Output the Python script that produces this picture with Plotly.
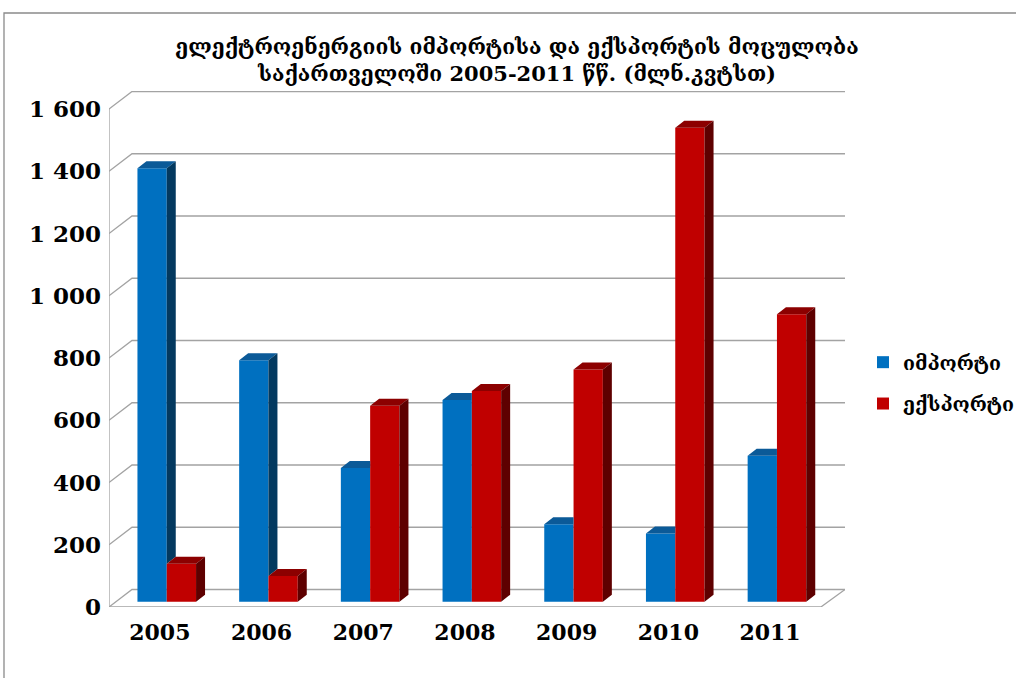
import plotly.graph_objects as go

# data (mln kWh)
years = ['2005', '2006', '2007', '2008', '2009', '2010', '2011']
imports = [1393, 776, 430, 648, 249, 219, 469]
exports = [122, 83, 630, 677, 746, 1523, 924]
y_ticks = [0, 200, 400, 600, 800, 1000, 1200, 1400, 1600]
y_tick_text = ['0', '200', '400', '600', '800', '1 000', '1 200', '1 400', '1 600']

title = ('ელექტროენერგიის იმპორტისა და ექსპორტის მოცულობა<br>'
         'საქართველოში 2005-2011 წწ. (მლნ.კვტსთ)')
names = ['იმპორტი', 'ექსპორტი']

# colours: front, top, side
blue = ['#0070C0', '#0B5A98', '#03395F']
red = ['#C00000', '#8C0000', '#5E0000']
grid_col = '#A3A3A3'
FONT = 'DejaVu Serif'

# page / plot geometry (pixels)
W, H = 1016, 678
PL, PR, PT, PB = 109, 845, 91, 607
PITCH = 101.7                  # px per category
PXU = (PB - 109) / 1600        # px per value unit

XMIN = -0.5
XMAX = XMIN + (PR - PL) / PITCH
YMAX = (PB - PT) / PXU

# oblique depth of the chart box and of the bars
DX, DY = 23 / PITCH, 17.5 / PXU
BAR_DX, BAR_DY = 0.3 * DX, 0.3 * DY
BAR_W = 29.3 / PITCH
BD_X, BD_Y = 9 / PITCH, 7 / PXU


def px_x(p):
    return (p - PL) / (PR - PL)


def px_y(p):
    return (PB - p) / (PB - PT)


fig = go.Figure()

# front faces
for k, (vals, col, name) in enumerate([(imports, blue, names[0]), (exports, red, names[1])]):
    fig.add_trace(go.Bar(
        x=[i + BAR_DX for i in range(len(years))],
        y=vals,
        base=BAR_DY,
        width=BAR_W,
        offset=-BAR_W if k == 0 else 0,
        marker=dict(color=col[0], line=dict(width=0)),
        name=name,
        legendgroup=name,
        hoverinfo='skip',
    ))

# top and side faces (blue ones clipped where the red bar hides them)
faces = {'bt': ([], []), 'bs': ([], []), 'rt': ([], []), 'rs': ([], [])}


def poly(key, pts):
    xs, ys = faces[key]
    for px_, py_ in pts + [pts[0]]:
        xs.append(px_)
        ys.append(py_)
    xs.append(None)
    ys.append(None)


for i in range(len(years)):
    xl = i + BAR_DX - BAR_W
    xm = i + BAR_DX
    xr = i + BAR_DX + BAR_W
    bt = imports[i] + BAR_DY
    rt = exports[i] + BAR_DY
    if bt > rt:
        poly('bt', [(xl, bt), (xm, bt), (xm + BD_X, bt + BD_Y), (xl + BD_X, bt + BD_Y)])
        poly('bs', [(xm, rt), (xm, bt), (xm + BD_X, bt + BD_Y), (xm + BD_X, rt + BD_Y)])
    else:
        poly('bt', [(xl, bt), (xm, bt), (xm, bt + BD_Y), (xl + BD_X, bt + BD_Y)])
    poly('rt', [(xm, rt), (xr, rt), (xr + BD_X, rt + BD_Y), (xm + BD_X, rt + BD_Y)])
    poly('rs', [(xr, BAR_DY), (xr, rt), (xr + BD_X, rt + BD_Y), (xr + BD_X, BAR_DY + BD_Y)])

for key, col in [('bt', blue[1]), ('bs', blue[2]), ('rt', red[1]), ('rs', red[2])]:
    xs, ys = faces[key]
    fig.add_trace(go.Scatter(
        x=xs, y=ys, mode='lines', fill='toself', fillcolor=col,
        line=dict(width=0, color=col), showlegend=False, hoverinfo='skip',
    ))

# back wall gridlines with slanted ticks from the front axis
x_front_r = XMIN + len(years)
for v in y_ticks:
    fig.add_shape(type='path', xref='x', yref='y', layer='below',
                  path=f'M{XMIN},{v} L{XMIN + DX},{v + DY} L{XMAX},{v + DY}',
                  line=dict(color=grid_col, width=1.3))
# front axis line and floor edges
fig.add_shape(type='line', xref='x', yref='y', layer='below',
              x0=XMIN, y0=0, x1=XMIN, y1=y_ticks[-1],
              line=dict(color=grid_col, width=1.3))
fig.add_shape(type='path', xref='x', yref='y', layer='below',
              path=f'M{XMIN},0 L{x_front_r},0 L{XMAX},{DY}',
              line=dict(color=grid_col, width=1.3))

# outer chart frame
fig.add_shape(type='rect', xref='paper', yref='paper', layer='below',
              x0=px_x(4), x1=px_x(W + 20), y0=px_y(H + 20), y1=px_y(13),
              line=dict(color='#8A8A8A', width=1.3), fillcolor='rgba(0,0,0,0)')

fig.update_layout(
    width=W, height=H,
    margin=dict(l=PL, r=W - PR, t=PT, b=H - PB, pad=0, autoexpand=False),
    paper_bgcolor='white', plot_bgcolor='white',
    barmode='overlay',
    showlegend=True,
    title=dict(text=title, x=517 / W, xref='container', xanchor='center',
               y=1 - 54 / H, yref='container', yanchor='top',
               font=dict(family=FONT, size=21, color='black', weight='bold')),
    legend=dict(x=px_x(863), y=px_y(383), xanchor='left', yanchor='middle',
                font=dict(family=FONT, size=19.5, color='black', weight='bold'),
                tracegroupgap=13, traceorder='grouped', bgcolor='rgba(0,0,0,0)'),
    xaxis=dict(range=[XMIN, XMAX], tickvals=list(range(len(years))), ticktext=years,
               showgrid=False, zeroline=False, showline=False, ticks='',
               ticklabelstandoff=10,
               tickfont=dict(family=FONT, size=22, color='black', weight='bold')),
    yaxis=dict(range=[0, YMAX], tickvals=y_ticks, ticktext=y_tick_text,
               showgrid=False, zeroline=False, showline=False, ticks='',
               ticklabelstandoff=7,
               tickfont=dict(family=FONT, size=23, color='black', weight='bold')),
)

# drop the default page margin so the figure sits at the window corner
fig.write_html('out.html', config={'displayModeBar': False},
               post_script="document.body.style.margin='0';")
